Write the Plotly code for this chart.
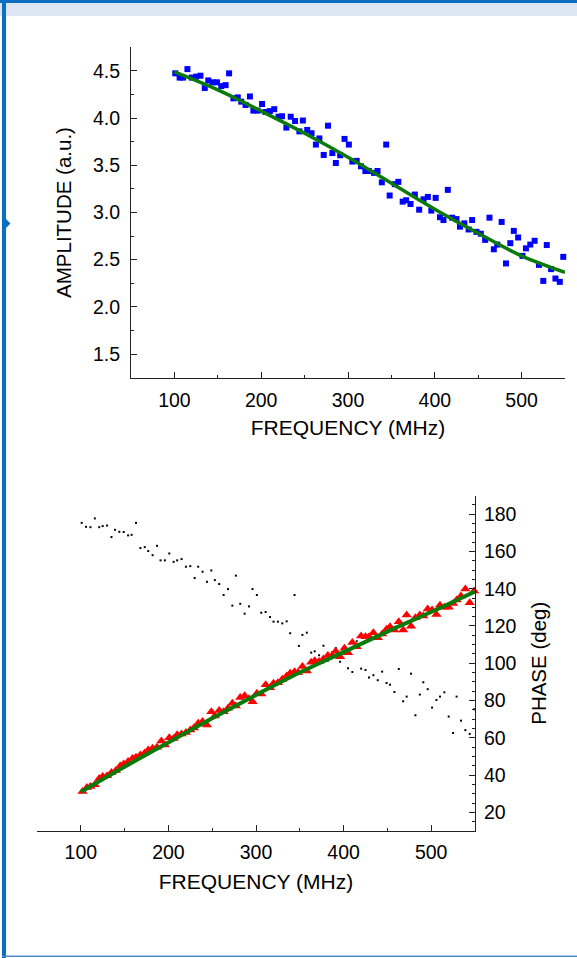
import plotly.graph_objects as go

# ---------------- Data: amplitude panel ----------------
amp_freq = [101, 106, 110, 115, 120, 125, 130, 135, 139, 144, 149, 154, 159, 163, 168, 173, 177, 182,
            187, 191, 196, 201, 205, 210, 215, 220, 224, 229, 234, 239, 244, 248, 253, 258, 263, 267,
            272, 277, 282, 286, 291, 296, 301, 305, 310, 315, 320, 324, 330, 334, 339, 344, 348, 354,
            358, 363, 367, 372, 377, 382, 387, 392, 396, 401, 406, 410, 415, 420, 425, 429, 434, 439,
            443, 448, 453, 458, 463, 468, 472, 477, 482, 487, 491, 496, 501, 505, 510, 515, 520, 525,
            529, 534, 539, 544, 548]
amp_val = [4.475, 4.43, 4.43, 4.52, 4.43, 4.44, 4.45, 4.32, 4.40, 4.38, 4.38, 4.34, 4.35, 4.475, 4.21,
           4.22, 4.175, 4.14, 4.23, 4.08, 4.08, 4.15, 4.065, 4.075, 4.095, 4.015, 4.02, 3.90, 4.015, 3.97,
           3.86, 3.975, 3.875, 3.84, 3.72, 3.785, 3.61, 3.92, 3.63, 3.525, 3.607, 3.78, 3.72, 3.54, 3.547,
           3.49, 3.44, 3.44, 3.42, 3.44, 3.32, 3.72, 3.18, 3.30, 3.325, 3.115, 3.13, 3.09, 3.19, 3.03,
           3.14, 3.165, 3.02, 3.155, 2.95, 2.92, 3.24, 2.945, 2.93, 2.85, 2.885, 2.82, 2.92, 2.795, 2.775,
           2.71, 2.945, 2.61, 2.66, 2.90, 2.46, 2.675, 2.805, 2.735, 2.54, 2.62, 2.66, 2.70, 2.445, 2.275,
           2.655, 2.40, 2.30, 2.265, 2.53]
amp_fit_freq = [100, 150, 200, 250, 300, 350, 400, 450, 500, 550]
amp_fit_val = [4.49, 4.30, 4.075, 3.84, 3.585, 3.31, 3.035, 2.78, 2.54, 2.365]

# ---------------- Data: phase panel ----------------
ph_freq = [102, 107, 111, 116, 121, 125, 130, 135, 140, 145, 149, 154, 159, 163, 168, 173, 177, 182,
           187, 192, 196, 201, 206, 210, 215, 220, 225, 229, 234, 239, 244, 249, 253, 258, 263, 268,
           273, 277, 282, 287, 292, 296, 301, 306, 311, 316, 320, 325, 330, 335, 339, 344, 348, 353,
           358, 363, 367, 372, 377, 382, 387, 391, 396, 401, 405, 410, 415, 420, 425, 429, 434, 439,
           444, 449, 453, 458, 463, 468, 472, 477, 482, 487, 491, 496, 501, 506, 510, 515, 520, 525,
           529, 534, 539, 544, 549]
ph_val = [31.2, 33.3, 33.9, 34.8, 38.2, 39.2, 39.6, 41.4, 42.4, 44.9, 46.0, 47.3, 48.9, 49.6, 50.8,
          51.8, 53.5, 54.4, 55.0, 58.3, 56.2, 60.0, 59.6, 61.6, 62.1, 62.8, 64.2, 65.2, 67.8, 68.7, 66.9,
          74.0, 71.7, 74.6, 74.0, 75.9, 78.6, 77.1, 81.6, 82.5, 81.0, 79.4, 83.9, 83.5, 88.4, 86.9, 89.3,
          89.6, 91.4, 93.2, 94.6, 95.5, 95.0, 98.2, 95.9, 100.5, 101.4, 100.9, 102.3, 104.1, 104.1, 106.4,
          103.5, 108.0, 105.7, 111.1, 108.9, 114.6, 114.2, 114.2, 116.4, 113.7, 115.7, 118.2, 119.6, 117.8,
          122.3, 117.8, 125.9, 119.8, 124.4, 125.9, 125.3, 129.1, 128.6, 126.2, 131.1, 130.0, 130.0, 132.1,
          133.9, 136.1, 139.8, 132.5, 138.7]
dot_freq = [101, 106, 111, 116, 121, 125, 130, 135, 139, 144, 149, 154, 158, 163, 168, 173, 177, 182,
            187, 191, 196, 201, 206, 210, 215, 220, 225, 230, 234, 239, 244, 249, 253, 258, 263, 268,
            273, 277, 282, 287, 292, 296, 301, 306, 311, 316, 320, 325, 330, 335, 339, 344, 349, 353,
            358, 363, 367, 372, 377, 382, 387, 391, 396, 401, 405, 410, 415, 420, 425, 429, 434, 439,
            444, 449, 453, 458, 463, 468, 472, 477, 482, 487, 491, 496, 501, 506, 510, 515, 520, 525,
            529, 534, 539, 544, 549]
dot_val = [175.3, 173.2, 173.0, 177.7, 173.0, 173.6, 173.9, 167.7, 171.6, 170.5, 170.4, 168.6, 168.9,
           175.3, 161.8, 162.3, 160.2, 158.0, 163.0, 155.2, 155.2, 158.9, 154.4, 155.2, 155.9, 151.8,
           152.1, 145.7, 151.8, 149.1, 143.7, 149.8, 144.6, 142.5, 136.6, 139.8, 130.9, 147.0, 131.9,
           126.6, 130.5, 139.8, 136.6, 127.1, 127.5, 124.8, 122.3, 122.3, 121.4, 122.5, 116.1, 136.6,
           109.3, 115.2, 116.4, 105.7, 106.4, 104.3, 109.4, 101.4, 105.9, 108.2, 100.8, 108.0, 97.3,
           95.3, 111.8, 97.1, 96.4, 92.3, 93.6, 90.9, 95.5, 89.4, 88.5, 84.6, 96.9, 79.6, 82.1, 94.4,
           72.1, 83.2, 89.8, 86.1, 76.2, 80.3, 82.1, 84.4, 71.4, 62.6, 82.1, 69.2, 64.1, 62.1, 75.3]
ph_fit_freq = [100, 150, 200, 250, 300, 350, 400, 450, 500, 550]
ph_fit_val = [31.0, 44.5, 57.5, 70.5, 83.0, 95.0, 106.0, 117.0, 127.5, 138.5]

FONT = "Arial, Liberation Sans, sans-serif"
W, H = 577, 958

fig = go.Figure()

fig.add_trace(go.Scatter(x=amp_freq, y=amp_val, mode="markers",
                         marker=dict(symbol="square", size=6, color="#0000FF"),
                         xaxis="x", yaxis="y", cliponaxis=False))
fig.add_trace(go.Scatter(x=amp_fit_freq, y=amp_fit_val, mode="lines",
                         line=dict(color="#0A7A0A", width=3.5, shape="spline"),
                         xaxis="x", yaxis="y"))

fig.add_trace(go.Scatter(x=dot_freq, y=dot_val, mode="markers",
                         marker=dict(symbol="square", size=2, color="black"),
                         xaxis="x2", yaxis="y2", cliponaxis=False))
fig.add_trace(go.Scatter(x=ph_freq, y=ph_val, mode="markers",
                         marker=dict(symbol="triangle-up", size=9, color="#FF0000"),
                         xaxis="x2", yaxis="y2", cliponaxis=False))
fig.add_trace(go.Scatter(x=ph_fit_freq, y=ph_fit_val, mode="lines",
                         line=dict(color="#0A7A0A", width=4, shape="spline"),
                         xaxis="x2", yaxis="y2", cliponaxis=False))

axis_common = dict(showgrid=False, zeroline=False, showline=True, linecolor="#222",
                   linewidth=1, ticks="inside", tickcolor="#222", ticklen=6, tickwidth=1)

tick_f = dict(family=FONT, size=19.5, color="black")
title_h = dict(family=FONT, size=21, color="black")
title_v = dict(family=FONT, size=20.5, color="black")

fig.update_layout(
    width=W, height=H, margin=dict(l=0, r=0, t=0, b=0),
    paper_bgcolor="white", plot_bgcolor="rgba(0,0,0,0)", showlegend=False,
    xaxis=dict(**axis_common, domain=[131 / W, 565 / W], range=[50, 550], anchor="y",
               tickvals=[100, 200, 300, 400, 500], ticktext=["100", "200", "300", "400", "500"],
               minor=dict(dtick=50, tick0=50, ticks="inside", ticklen=3, tickcolor="#222"),
               ticklabelstandoff=5, tickfont=tick_f,
               title=dict(text="FREQUENCY (MHz)", standoff=10, font=title_h)),
    yaxis=dict(**axis_common, domain=[1 - 377.6 / H, 1 - 47.4 / H], range=[1.25, 4.75], anchor="x",
               tickvals=[1.5, 2.0, 2.5, 3.0, 3.5, 4.0, 4.5],
               ticktext=["1.5", "2.0", "2.5", "3.0", "3.5", "4.0", "4.5"],
               minor=dict(dtick=0.25, tick0=0, ticks="inside", ticklen=3, tickcolor="#222"),
               ticklabelstandoff=6, tickfont=tick_f,
               title=dict(text="AMPLITUDE (a.u.)", standoff=15, font=title_v)),
    xaxis2=dict(**axis_common, domain=[37 / W, 475 / W], range=[50, 550], anchor="y2",
                tickvals=[100, 200, 300, 400, 500], ticktext=["100", "200", "300", "400", "500"],
                minor=dict(dtick=50, tick0=50, ticks="inside", ticklen=3, tickcolor="#222"),
                ticklabelstandoff=4, tickfont=tick_f,
                title=dict(text="FREQUENCY (MHz)", standoff=11, font=title_h)),
    yaxis2=dict(**axis_common, domain=[1 - 831 / H, 1 - 495.5 / H], range=[10, 190], anchor="x2",
                side="right",
                tickvals=[20, 40, 60, 80, 100, 120, 140, 160, 180],
                ticktext=["20", "40", "60", "80", "100", "120", "140", "160", "180"],
                minor=dict(dtick=5, tick0=0, ticks="inside", ticklen=3, tickcolor="#222"),
                ticklabelstandoff=4, tickfont=tick_f,
                title=dict(text="PHASE (deg)", standoff=16, font=title_v)),
)

# page frame decoration
blue = "#0A6FC2"
fig.add_shape(type="rect", xref="paper", yref="paper", x0=0, x1=1, y0=1 - 16 / H, y1=1 - 3 / H,
              fillcolor="#DCE6F2", line_width=0, layer="below")
fig.add_shape(type="rect", xref="paper", yref="paper", x0=0, x1=1, y0=1 - 3 / H, y1=1,
              fillcolor=blue, line_width=0)
fig.add_shape(type="rect", xref="paper", yref="paper", x0=2 / W, x1=6 / W, y0=0, y1=1,
              fillcolor=blue, line_width=0)
fig.add_shape(type="rect", xref="paper", yref="paper", x0=2 / W, x1=1, y0=1 / H, y1=2.5 / H,
              fillcolor="#4A8CC8", line_width=0)
fig.add_shape(type="path", xref="paper", yref="paper",
              path=f"M {6 / W} {1 - 219 / H} L {10.5 / W} {1 - 223.5 / H} L {6 / W} {1 - 228 / H} Z",
              fillcolor=blue, line_width=0)

fig.write_html("out.html", config={"displayModeBar": False},
               post_script="document.body.style.margin='0';")
